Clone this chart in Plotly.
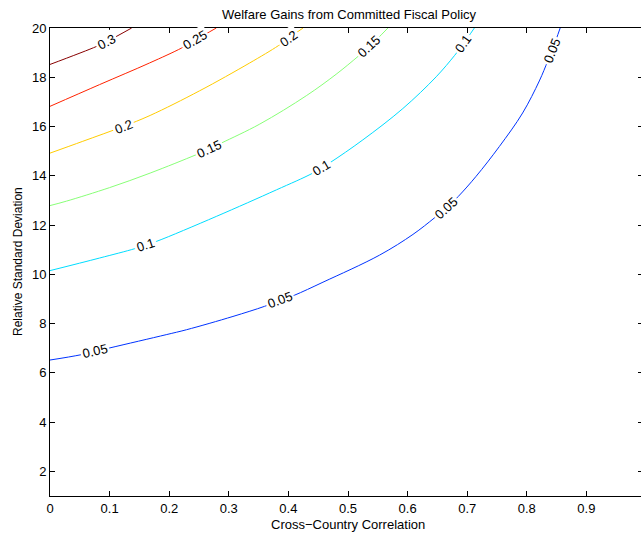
import numpy as np
import plotly.graph_objects as go

# ---- data ----
levels = [0.05, 0.1, 0.15, 0.2, 0.25, 0.3]
level_text = ["0.05", "0.1", "0.15", "0.2", "0.25", "0.3"]
colors = ["#0033ff", "#00ddff", "#88ff77", "#ffcc00", "#ff2200", "#880000"]

x_005 = [0.0, 0.053, 0.100, 0.195, 0.229, 0.307, 0.360, 0.386, 0.410, 0.458, 0.553, 0.609,
         0.645, 0.665, 0.685, 0.715, 0.754, 0.793, 0.821, 0.835, 0.844, 0.856]
y_005 = [6.52, 6.74, 7.01, 7.55, 7.75, 8.29, 8.70, 8.94, 9.15, 9.68, 10.78, 11.62,
         12.29, 12.69, 13.16, 13.98, 15.19, 16.55, 17.85, 18.65, 19.19, 20.0]

x_010 = [0.0, 0.083, 0.142, 0.160, 0.179, 0.279, 0.380, 0.441, 0.469, 0.525, 0.592, 0.648,
         0.679, 0.693, 0.712]
y_010 = [10.15, 10.66, 11.04, 11.19, 11.34, 12.35, 13.43, 14.11, 14.52, 15.46, 16.73, 18.02,
         18.89, 19.34, 20.0]

x_015 = [0.0, 0.0275, 0.100, 0.168, 0.2456, 0.267, 0.2876, 0.352, 0.430, 0.480, 0.517,
         0.536, 0.567]
y_015 = [12.79, 12.97, 13.52, 14.11, 14.86, 15.09, 15.33, 16.10, 17.25, 18.12, 18.85,
         19.25, 20.0]

x_020 = [0.0, 0.055, 0.1226, 0.168, 0.251, 0.335, 0.383, 0.3995, 0.4245]
y_020 = [14.92, 15.40, 16.00, 16.45, 17.45, 18.58, 19.28, 19.57, 20.0]

x_025 = [0.0, 0.083, 0.167, 0.221, 0.243, 0.279]
y_025 = [16.82, 17.70, 18.58, 19.19, 19.50, 20.0]

x_030 = [0.0, 0.078, 0.0946, 0.137]
y_030 = [18.52, 19.25, 19.44, 20.0]

# label positions (x along each contour)
label_x_005 = [0.076, 0.386, 0.665, 0.842]
label_x_010 = [0.160, 0.455, 0.693]
label_x_015 = [0.267, 0.536]
label_x_020 = [0.1226, 0.3995]
label_x_025 = [0.243]
label_x_030 = [0.0946]

x_ticks = [0, 0.1, 0.2, 0.3, 0.4, 0.5, 0.6, 0.7, 0.8, 0.9]
x_tick_text = ["0", "0.1", "0.2", "0.3", "0.4", "0.5", "0.6", "0.7", "0.8", "0.9"]
y_ticks = [2, 4, 6, 8, 10, 12, 14, 16, 18, 20]

lines_x = [x_005, x_010, x_015, x_020, x_025, x_030]
lines_y = [y_005, y_010, y_015, y_020, y_025, y_030]
labels_x = [label_x_005, label_x_010, label_x_015, label_x_020, label_x_025, label_x_030]

# ---- layout geometry ----
W, H = 641, 537
ML, MR, MT, MB = 50, 0, 28, 41
X_RANGE = [0, (W - ML - MR) / 596.0]
Y_RANGE = [1, 20]
px_per_x = (W - ML - MR) / (X_RANGE[1] - X_RANGE[0])
px_per_y = (H - MT - MB) / (Y_RANGE[1] - Y_RANGE[0])

FONT = "Liberation Sans, Arial, Helvetica, sans-serif"
FS = 13

fig = go.Figure()
annotations = []
for lx, ly, c, txt, lab in zip(lines_x, lines_y, colors, level_text, labels_x):
    fig.add_trace(go.Scatter(x=lx, y=ly, mode="lines",
                             line=dict(color=c, width=1, shape="spline", smoothing=1.0),
                             showlegend=False, hoverinfo="skip"))
    ax = np.array(lx)
    ay = np.array(ly)
    for xl in lab:
        yl = float(np.interp(xl, ax, ay))
        d = 0.008
        s = (np.interp(xl + d, ax, ay) - np.interp(xl - d, ax, ay)) / (2 * d)
        ang = -np.degrees(np.arctan(s * px_per_y / px_per_x))
        annotations.append(dict(x=xl, y=yl, xref="x", yref="y", text=txt, showarrow=False,
                                textangle=float(ang), bgcolor="white", borderpad=1.5,
                                font=dict(family=FONT, size=FS, color="black")))

# dummy trace to host the right-hand tick axis
fig.add_trace(go.Scatter(x=[None], y=[None], yaxis="y2", showlegend=False, hoverinfo="skip"))

annotations.append(dict(x=(348 - ML) / (W - ML - MR), y=-(524 - (H - MB)) / (H - MT - MB),
                        xref="paper", yref="paper", text="Cross\u2212Country Correlation",
                        showarrow=False, xanchor="center", yanchor="middle",
                        font=dict(family=FONT, size=FS, color="black")))
annotations.append(dict(x=(18 - ML) / (W - ML - MR), y=0.5, xref="paper", yref="paper",
                        text="Relative Standard Deviation", textangle=-90, showarrow=False,
                        xanchor="center", yanchor="middle",
                        font=dict(family=FONT, size=12, color="black")))

axis_common = dict(showgrid=False, zeroline=False, ticks="inside", ticklen=5, tickwidth=1,
                   tickcolor="black", linecolor="black", linewidth=1, automargin=False,
                   tickfont=dict(family=FONT, size=FS, color="black"))

fig.update_layout(
    width=W, height=H,
    margin=dict(l=ML, r=MR, t=MT, b=MB, pad=0, autoexpand=False),
    paper_bgcolor="white", plot_bgcolor="white",
    title=dict(text="Welfare Gains from Committed Fiscal Policy", x=349 / W, xanchor="center",
               xref="container", y=1 - 14 / H, yref="container", yanchor="middle",
               font=dict(family=FONT, size=FS, color="black")),
    xaxis=dict(range=X_RANGE, tickvals=x_ticks, ticktext=x_tick_text, showline=True,
               mirror="ticks", **axis_common),
    yaxis=dict(range=Y_RANGE, tickvals=y_ticks, showline=True, mirror=False, **axis_common),
    yaxis2=dict(range=Y_RANGE, tickvals=y_ticks, overlaying="y", side="right", showline=False,
                showticklabels=False, showgrid=False, zeroline=False, ticks="inside", ticklen=3,
                tickcolor="black", automargin=False),
    annotations=annotations,
    font=dict(family=FONT, size=FS, color="black"),
)

fig.write_html(
    "out.html",
    config={"displayModeBar": False, "staticPlot": True},
    post_script="document.body.style.margin='0';document.body.style.padding='0';"
                "document.body.style.overflow='hidden';"
                "document.documentElement.style.overflow='hidden';",
)
